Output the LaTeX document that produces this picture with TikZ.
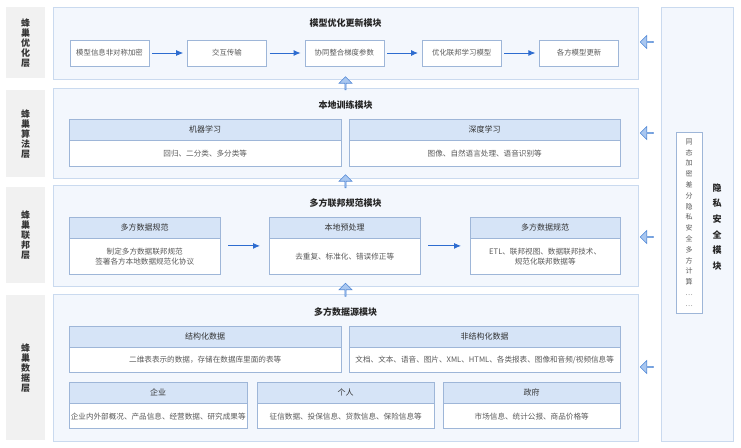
\documentclass[tikz,border=0pt]{standalone}
\usepackage{fontspec}
\setmainfont{Noto Sans CJK SC}
\usetikzlibrary{arrows.meta,positioning,shapes.arrows}

\definecolor{panelbg}{HTML}{F3F7FD}
\definecolor{panelline}{HTML}{CADAEF}
\definecolor{cardline}{HTML}{9EB6D8}
\definecolor{headfill}{HTML}{D6E4F7}
\definecolor{flowblue}{HTML}{2D6CD0}
\definecolor{hollowfill}{HTML}{A9C7F0}
\definecolor{hollowline}{HTML}{5288D6}
\definecolor{layergray}{HTML}{F1F1F1}
\definecolor{txtgray}{HTML}{5A5A5A}

\tikzset{
  panel/.style={fill=panelbg, draw=panelline, line width=0.7pt, inner sep=0pt},
  layerbox/.style={fill=layergray, text=black!80, align=center, inner sep=0pt,
    font=\bfseries\fontsize{9}{10}\selectfont},
  modtitle/.style={text=black!85, font=\bfseries\fontsize{9}{11}\selectfont},
  stepbox/.style={draw=cardline, fill=white, text=txtgray, inner sep=0pt,
    minimum width=79pt, minimum height=26pt, font=\fontsize{7.4}{9}\selectfont},
  headcell/.style={draw=cardline, fill=headfill, text=black!80, inner sep=0pt,
    minimum height=21pt, font=\fontsize{8}{10}\selectfont},
  bodycell/.style={draw=cardline, fill=white, text=txtgray, inner sep=0pt,
    align=center, font=\fontsize{7.6}{10}\selectfont},
  flow/.style={-{Latex[length=7pt,width=6pt]}, flowblue, line width=0.9pt},
  hollowleft/.style={single arrow, draw=hollowline, fill=hollowfill, line width=0.6pt,
    inner sep=0pt, minimum height=13pt, minimum width=13pt,
    single arrow head extend=3pt, shape border rotate=180},
  hollowup/.style={hollowleft, shape border rotate=90},
  privbox/.style={draw=cardline, fill=white, text=txtgray, align=center, inner sep=0pt,
    minimum width=26pt, minimum height=181pt, font=\fontsize{7}{10.8}\selectfont},
  privtitle/.style={text=black!85, align=center,
    font=\bfseries\fontsize{9}{15.6}\selectfont}
}

% card with header and body: name, left x, top y, width, body height, title, body
\newcommand{\infocard}[7]{%
  \node[headcell, minimum width=#4pt, anchor=north west] (#1) at (#2,#3) {#6};
  \node[bodycell, minimum width=#4pt, minimum height=#5pt, anchor=north] (#1-b) at (#1.south) {#7};
}

\begin{document}
\begin{tikzpicture}[x=1pt,y=-1pt]
  \useasboundingbox (0,0) rectangle (741,447);

  % layer labels on the left
  \node[layerbox, minimum width=39pt, minimum height=71pt, anchor=north west] (lopt) at (6,7) {蜂\\巢\\优\\化\\层};
  \node[layerbox, minimum width=39pt, minimum height=87pt, anchor=north west] (lalg) at (6,90) {蜂\\巢\\算\\法\\层};
  \node[layerbox, minimum width=39pt, minimum height=96pt, anchor=north west] (lfed) at (6,187) {蜂\\巢\\联\\邦\\层};
  \node[layerbox, minimum width=39pt, minimum height=145pt, anchor=north west] (ldat) at (6,295) {蜂\\巢\\数\\据\\层};

  % module panels
  \node[panel, minimum width=585pt, minimum height=72pt, anchor=north west] (optpanel) at (53,7) {};
  \node[panel, minimum width=585pt, minimum height=90pt, anchor=north west] (algpanel) at (53,88) {};
  \node[panel, minimum width=585pt, minimum height=101pt, anchor=north west] (fedpanel) at (53,185) {};
  \node[panel, minimum width=585pt, minimum height=147pt, anchor=north west] (datpanel) at (53,294) {};

  % privacy module on the right
  \node[panel, minimum width=72pt, minimum height=434pt, anchor=north west] (privpanel) at (661,7) {};
  \node[privbox] (tech) at (689,222.5) {同\\态\\加\\密\\差\\分\\隐\\私\\安\\全\\多\\方\\计\\算\\…\\…};
  \node[privtitle] (privname) at (717,227) {隐\\私\\安\\全\\模\\块};

  % model optimisation update
  \node[modtitle] (opttitle) at (345.5,23) {模型优化更新模块};
  \node[stepbox] (enc) at (109.5,53) {模型信息非对称加密};
  \node[stepbox, right=38pt of enc] (trans) {交互传输};
  \node[stepbox, right=38pt of trans] (grad) {协同整合梯度参数};
  \node[stepbox, right=38pt of grad] (fedmodel) {优化联邦学习模型};
  \node[stepbox, right=38pt of fedmodel] (update) {各方模型更新};
  \draw[flow, shorten <=3pt, shorten >=4pt] (enc) -- (trans);
  \draw[flow, shorten <=3pt, shorten >=4pt] (trans) -- (grad);
  \draw[flow, shorten <=3pt, shorten >=4pt] (grad) -- (fedmodel);
  \draw[flow, shorten <=3pt, shorten >=4pt] (fedmodel) -- (update);

  % local training
  \node[modtitle] (algtitle) at (345.5,105) {本地训练模块};
  \infocard{ml}{69}{119}{272}{26}{机器学习}{回归、二分类、多分类等}
  \infocard{dl}{349}{119}{271}{26}{深度学习}{图像、自然语言处理、语音识别等}

  % federation spec
  \node[modtitle] (fedtitle) at (345.5,203) {多方联邦规范模块};
  \infocard{spec}{69}{217}{151}{36}{多方数据规范}{制定多方数据联邦规范\\签署各方本地数据规范化协议}
  \infocard{prep}{269}{217}{151}{36}{本地预处理}{去重复、标准化、错误修正等}
  \infocard{norm}{470}{217}{150}{36}{多方数据规范}{ETL、联邦视图、数据联邦技术、\\规范化联邦数据等}
  \draw[flow, shorten <=8pt, shorten >=9pt] ([yshift=-7.5pt]spec.south east) -- ([yshift=-7.5pt]prep.south west);
  \draw[flow, shorten <=8pt, shorten >=9pt] ([yshift=-7.5pt]prep.south east) -- ([yshift=-7.5pt]norm.south west);

  % data sources
  \node[modtitle] (dattitle) at (345.5,312) {多方数据源模块};
  \infocard{struct}{69}{326}{272}{25}{结构化数据}{二维表表示的数据，存储在数据库里面的表等}
  \infocard{unstruct}{349}{326}{271}{25}{非结构化数据}{文档、文本、语音、图片、XML、HTML、各类报表、图像和音频/视频信息等}
  \infocard{firm}{69}{382}{178}{25}{企业}{企业内外部概况、产品信息、经营数据、研究成果等}
  \infocard{person}{257}{382}{177}{25}{个人}{征信数据、投保信息、贷款信息、保险信息等}
  \infocard{gov}{443}{382}{177}{25}{政府}{市场信息、统计公报、商品价格等}

  % hollow arrows
  \node[hollowup] (up1) at (345.5,83.5) {};
  \node[hollowup] (up2) at (345.5,181.5) {};
  \node[hollowup] (up3) at (345.5,290) {};
  \node[hollowleft] (in1) at (647,42) {};
  \node[hollowleft] (in2) at (647,133) {};
  \node[hollowleft] (in3) at (647,237) {};
  \node[hollowleft] (in4) at (647,367) {};
\end{tikzpicture}
\end{document}
